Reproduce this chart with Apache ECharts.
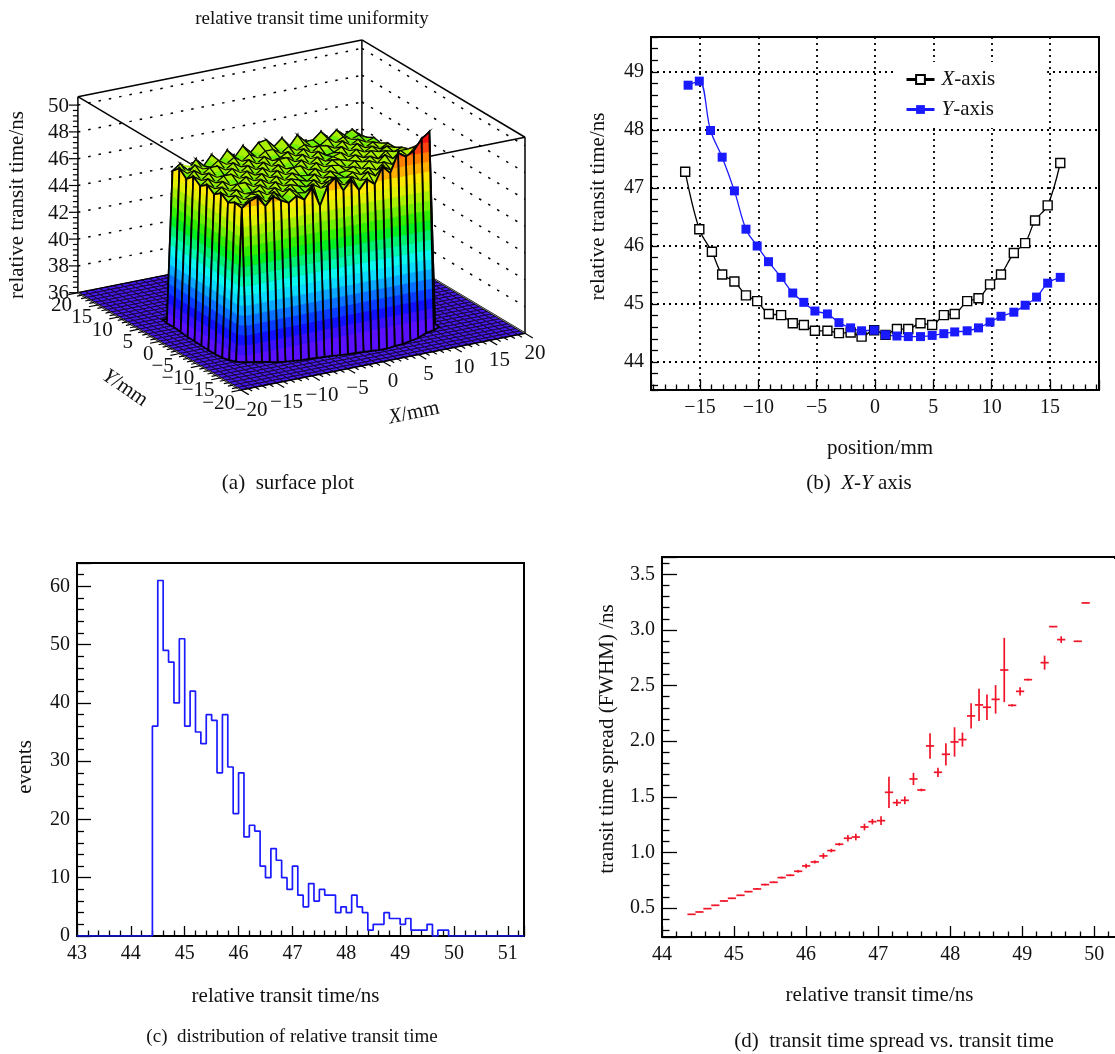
<!DOCTYPE html>
<html><head><meta charset="utf-8">
<style>html,body{margin:0;padding:0;background:#fff}#c{width:1115px;height:1054px}</style>
<script src="https://cdn.jsdelivr.net/npm/echarts@6/dist/echarts.min.js"></script>
</head><body><div id="c"></div>
<script>
// ---------- panel (b) ----------
const xAxisPos=[-16.27,-15.06,-13.98,-13.1,-12.05,-11.06,-10.1,-9.1,-8.05,-7.05,-6.1,-5.15,-4.08,-3.09,-2.09,-1.15,-0.07,0.9,1.88,2.85,3.9,4.9,5.9,6.83,7.9,8.87,9.86,10.8,11.9,12.87,13.72,14.8,15.88];
const xAxisTime=[47.28,46.29,45.90,45.51,45.39,45.15,45.05,44.83,44.81,44.67,44.64,44.54,44.54,44.50,44.51,44.44,44.55,44.47,44.57,44.57,44.67,44.64,44.81,44.83,45.05,45.10,45.34,45.51,45.88,46.05,46.44,46.70,47.43];
const yAxisPos=[-16.02,-15.06,-14.1,-13.1,-12.05,-11.06,-10.1,-9.13,-8.05,-7.05,-6.1,-5.15,-4.08,-3.09,-2.09,-1.15,-0.07,0.9,1.88,2.85,3.9,4.9,5.9,6.83,7.9,8.87,9.86,10.8,11.9,12.87,13.85,14.8,15.88];
const yAxisTime=[48.77,48.84,47.99,47.53,46.95,46.29,46.0,45.73,45.46,45.19,45.03,44.88,44.83,44.68,44.59,44.54,44.55,44.47,44.45,44.44,44.44,44.46,44.49,44.52,44.54,44.59,44.69,44.79,44.86,44.98,45.12,45.36,45.46];
// ---------- panel (c) ----------
const histEdges=[43,44.4,44.5,44.6,44.7,44.8,44.9,45.0,45.1,45.2,45.3,45.4,45.5,45.6,45.7,45.8,45.9,46.0,46.1,46.2,46.3,46.4,46.5,46.6,46.7,46.8,46.9,47.0,47.1,47.2,47.3,47.4,47.5,47.6,47.7,47.8,47.9,48.0,48.1,48.2,48.3,48.4,48.5,48.6,48.7,48.8,48.9,49.0,49.1,49.2,49.3,49.4,49.5,49.6,49.7,49.8,49.9,51.3];
const histCounts=[0,36,61,49,47,40,51,36,42,35,33,38,37,28,38,29,21,28,17,19,18,12,10,15,13,10,8,12,7,5,9,6,8,7,7,4,5,4,7,5,4,1,2,2,4,3,3,2,3,1,1,1,2,0,1,1,0,0];
// ---------- panel (d) ----------
const ttX=[44.41,44.52,44.63,44.74,44.86,44.97,45.09,45.20,45.32,45.43,45.55,45.66,45.78,45.89,46.00,46.12,46.24,46.35,46.46,46.58,46.69,46.81,46.92,47.04,47.15,47.26,47.37,47.49,47.60,47.72,47.83,47.94,48.06,48.17,48.29,48.40,48.51,48.63,48.75,48.86,48.97,49.08,49.31,49.43,49.54,49.77,49.88];
const ttY=[0.443,0.464,0.494,0.524,0.563,0.587,0.614,0.647,0.671,0.71,0.731,0.773,0.794,0.83,0.878,0.914,0.968,1.016,1.073,1.127,1.138,1.228,1.276,1.285,1.54,1.447,1.468,1.66,1.561,1.957,1.72,1.882,1.993,2.014,2.227,2.326,2.305,2.376,2.64,2.322,2.448,2.553,2.706,3.03,2.913,2.898,3.243];
const ttErr=[0.003,0.003,0.003,0.004,0.005,0.005,0.005,0.006,0.006,0.007,0.007,0.008,0.008,0.012,0.02,0.014,0.025,0.016,0.012,0.03,0.03,0.03,0.025,0.04,0.14,0.03,0.035,0.055,0.012,0.115,0.042,0.1,0.132,0.063,0.113,0.145,0.114,0.128,0.289,0.01,0.037,0.008,0.063,0.004,0.03,0.004,0.004];
// ---------- panel (a) ----------
const axisMm=[-20,-19,-18,-17,-16,-15,-14,-13,-12,-11,-10,-9,-8,-7,-6,-5,-4,-3,-2,-1,0,1,2,3,4,5,6,7,8,9,10,11,12,13,14,15,16,17,18,19,20];
const axisTicksMm=[-20,-15,-10,-5,0,5,10,15,20];
const axisTicksNs=[36,38,40,42,44,46,48,50];
const floorNs=36;
const surfX=[-15.8,-15,-13.9,-12.8,-11.7,-10.6,-9.5,-8.4,-7.3,-6.2,-5.1,-4,-2.9,-1.8,-0.7,0.4,1.5,2.6,3.7,4.8,5.9,7,8.1,9.2,10.3,11.4,12.2];
const surfY=[-12.6,-11.5,-9.8,-8.1,-6.4,-4.7,-3,-1.3,0.4,2.1,3.8,5.5,6.5];
const rimFront=[36.3,36.2,36.1,36,35.87,35.75,35.67,35.61,35.55,35.51,35.47,35.43,35.39,35.34,35.3,35.26,35.22,35.18,35.13,35.13,35.2,35.23,35.34,35.45,35.7,35.81,35.95];
const rimLeft=[36.13,35.93,35.8,35.76,35.75,35.78,35.8,35.8,35.87,35.93,35.9];
const surfRows=[
[47.5,47.9,48.1,47.3,47.9,47.5,47.2,47.6,47.2,48.0,46.5,47.9,48.4,47.3,48.0,47.1,47.8,47.3,48.5,47.9,49.3,48.9,49.2,50.0,50.4],
[47.6,47.3,47.7,47.8,47.2,47.8,47.3,47.8,47.4,47.3,47.8,47.4,47.8,47.6,47.3,47.8,47.4,47.9,47.5,48.1,47.7,48.4,48.0,48.8,49.4],
[47.3,47.7,47.3,47.6,47.7,47.3,47.7,47.3,47.7,47.5,47.3,47.7,47.3,47.7,47.5,47.4,47.7,47.4,47.8,47.5,48.0,47.7,48.3,48.1,48.7],
[47.7,47.3,47.7,47.3,47.3,47.7,47.3,47.7,47.3,47.7,47.5,47.3,47.7,47.3,47.7,47.4,47.5,47.7,47.4,47.9,47.6,48.1,47.7,48.2,48.2],
[47.3,47.7,47.3,47.7,47.7,47.3,47.7,47.3,47.7,47.3,47.7,47.4,47.3,47.7,47.3,47.7,47.6,47.3,47.7,47.5,47.8,47.5,48.0,47.8,48.0],
[47.7,47.3,47.7,47.3,47.3,47.7,47.3,47.7,47.3,47.7,47.3,47.7,47.7,47.3,47.7,47.3,47.7,47.6,47.4,47.7,47.4,47.8,47.6,47.9,47.7],
[47.3,47.7,47.3,47.7,47.7,47.3,47.7,47.3,47.7,47.3,47.7,47.3,47.3,47.7,47.3,47.7,47.3,47.5,47.7,47.3,47.7,47.4,47.7,47.4,47.7],
[47.7,47.3,47.7,47.3,47.3,47.7,47.3,47.7,47.3,47.7,47.3,47.7,47.7,47.3,47.7,47.3,47.7,47.3,47.4,47.7,47.3,47.7,47.3,47.6,47.4],
[47.2,47.7,47.3,47.7,47.7,47.3,47.7,47.3,47.7,47.3,47.7,47.3,47.4,47.7,47.3,47.7,47.3,47.7,47.6,47.3,47.7,47.3,47.6,47.3,47.5],
[47.7,47.2,47.7,47.3,47.3,47.7,47.3,47.7,47.3,47.7,47.3,47.7,47.7,47.3,47.7,47.3,47.6,47.3,47.3,47.7,47.3,47.6,47.3,47.5,47.2],
[47.2,47.6,47.0,47.7,47.1,47.8,47.2,47.9,47.3,48.0,47.4,48.0,48.1,47.5,48.0,47.3,48.0,47.4,47.4,47.9,47.3,47.8,47.3,47.6,47.1]
];
const palette=['#5a10ff','#3a10ff','#1010ff','#0a3cff','#0a70ff','#0aa8ff','#0adcff','#0af8f0','#00f8b0','#00f070','#00f020','#30f000','#70f000','#a8f000','#e0f000','#ffe800','#ffb000','#ff8000','#ff4010','#f01010'];

const SERIF='"Liberation Serif","Times New Roman",serif';
const bandH=0.72, topShift=2.15, zTop=50.63;
const surfZ=[rimFront]
  .concat(surfRows.map((r,k)=>[rimLeft[k]].concat(r,[floorNs])))
  .concat([surfX.map(()=>floorNs)]);

function proj(x,y,z){
  return [241+7.1*(x+20)-4.0775*(y+20), 390-1.4175*(x+20)-2.4325*(y+20)-13.4*(z-36)];
}
function clipZ(poly,z0,keepAbove){
  const out=[];
  for(let i=0;i<poly.length;i++){
    const a=poly[i],b=poly[(i+1)%poly.length];
    const ia=keepAbove?a[2]>=z0:a[2]<=z0, ib=keepAbove?b[2]>=z0:b[2]<=z0;
    if(ia)out.push(a);
    if(ia!==ib){const t=(z0-a[2])/(b[2]-a[2]);
      out.push([a[0]+t*(b[0]-a[0]),a[1]+t*(b[1]-a[1]),z0,a[3]+t*(b[3]-a[3])]);}
  }
  return out;
}
const line3=(p,q,style)=>{const a=proj(...p),b=proj(...q);
  return {type:'line',shape:{x1:a[0],y1:a[1],x2:b[0],y2:b[1]},style,silent:true};};

function renderFrame(){
  const ch=[],s={stroke:'#000',lineWidth:1.5,fill:null},d={stroke:'#000',lineWidth:1.5,lineDash:[2.5,8],fill:null};
  const L=-20,H=20,Z=zTop,F=floorNs;
  axisTicksNs.slice(1).forEach(z=>{
    ch.push(line3([L,H,z],[H,H,z],d));
    ch.push(line3([H,H,z],[H,L,z],d));
  });
  [[[L,H,Z],[H,H,Z]],[[H,H,Z],[H,L,Z]],[[L,H,Z],[L,L,Z]],[[L,L,Z],[H,L,Z]],
   [[L,H,F],[L,H,Z]],[[H,H,F],[H,H,Z]],[[H,L,F],[H,L,Z]]].forEach(p=>ch.push(line3(p[0],p[1],s)));
  return {type:'group',children:ch};
}
function renderFloor(params,api){
  const i=api.value(0),j=api.value(1);
  const x0=axisMm[i],x1=axisMm[i+1],y0=axisMm[j],y1=axisMm[j+1];
  const pts=[proj(x0,y0,floorNs),proj(x1,y0,floorNs),proj(x1,y1,floorNs),proj(x0,y1,floorNs)];
  return {type:'polygon',shape:{points:pts},silent:true,style:{fill:'#4a18ec',stroke:'#14083a',lineWidth:1}};
}
function renderFloorEdge(){
  const L=-20,H=20,F=floorNs;
  return {type:'group',children:[
    line3([H,L,F],[H,H,F],{stroke:'#000',lineWidth:2,fill:null}),
    line3([H,L,F],[H,H,F],{stroke:'#bbb',lineWidth:0.7,fill:null}),
    line3([L,H,F],[H,H,F],{stroke:'#000',lineWidth:1.2,fill:null})
  ]};
}
function renderSurf(params,api){
  const i=api.value(0),j=api.value(1),ch=[];
  const corners=[[i,j],[i+1,j],[i+1,j+1],[i,j+1]].map(c=>[surfX[c[0]],surfY[c[1]],surfZ[c[1]][c[0]]]);
  const isTop=Math.min(...corners.map(c=>c[2]))>=40;
  const shift=isTop?topShift:0;
  const poly=corners.map(c=>[c[0],c[1],c[2]-shift,c[2]]);
  const lo=Math.min(...poly.map(c=>c[2])),hi=Math.max(...poly.map(c=>c[2]));
  for(let b=0;b<palette.length;b++){
    const z0=b===0?-99:36+b*bandH,z1=b===palette.length-1?99:36+(b+1)*bandH;
    if(z1<lo||z0>hi)continue;
    let cl=clipZ(poly,z0,true);
    if(cl.length>2)cl=clipZ(cl,z1,false);
    if(cl.length<3)continue;
    ch.push({type:'polygon',silent:true,shape:{points:cl.map(c=>proj(c[0],c[1],c[3]))},
      style:{fill:palette[b],stroke:palette[b],lineWidth:0.5}});
  }
  ch.push({type:'polygon',silent:true,shape:{points:corners.map(c=>proj(c[0],c[1],c[2]))},
    style:{fill:null,stroke:'#000',lineWidth:isTop?1.1:1.8}});
  return {type:'group',children:ch};
}
const txt=(t,x,y,align)=>({type:'text',silent:true,style:{text:t,x,y,align:align,verticalAlign:'middle',
  fontFamily:SERIF,fontSize:21,fill:'#111'}});
function renderTicks(){
  const ch=[],s={stroke:'#000',lineWidth:1.2,fill:null};
  const L=-20,H=20,F=floorNs;
  ch.push(line3([L,H,F],[L,L,F],{stroke:'#000',lineWidth:2,fill:null}));
  ch.push(line3([L,H,F],[L,L,F],{stroke:'#bbb',lineWidth:0.7,fill:null}));
  ch.push(line3([L,L,F],[H,L,F],{stroke:'#000',lineWidth:1.4,fill:null}));
  axisMm.forEach(v=>{
    const maj=axisTicksMm.indexOf(v)>=0, n=maj?1.9:1;
    ch.push(line3([v,L,F],[v,L-n,F],s));
    ch.push(line3([L,v,F],[L-n*0.7,v,F],s));
  });
  axisTicksMm.forEach(v=>{
    const label=String(v).replace('-','\u2212');
    const px=proj(v,L,F), py=proj(L,v,F);
    ch.push(txt(label,px[0]+10,px[1]+20,'center'));
    ch.push(txt(label,py[0]-6,py[1]+13,'right'));
  });
  for(let z=36;z<=50.01;z+=0.4){
    const a=proj(L,H,z), maj=Math.abs((z-36)/2-Math.round((z-36)/2))<0.01;
    ch.push({type:'line',silent:true,shape:{x1:a[0],y1:a[1],x2:a[0]-(maj?9:5),y2:a[1]},style:s});
  }
  axisTicksNs.forEach(z=>{const a=proj(L,H,z);ch.push(txt(String(z),a[0]-9,a[1]+1,'right'));});
  return {type:'group',children:ch};
}

const floorCells=[];
for(let j=axisMm.length-2;j>=0;j--)for(let i=axisMm.length-2;i>=0;i--)floorCells.push([i,j]);
const surfCells=[];
for(let j=surfY.length-2;j>=0;j--)for(let i=surfX.length-2;i>=0;i--)surfCells.push([i,j]);

// ---------- 2D axes ----------
const minus=s=>String(s).replace('-','\u2212');
function mkAxis(o){
  const isX=o.kind==='x';
  const labelFn=v=>{
    if(Math.abs(v/o.step-Math.round(v/o.step))>1e-6)return '';
    if(v>=o.max-1e-9)return '';
    if(v<=o.min+1e-9&&o.hideMin)return '';
    return minus(o.fixed!=null?v.toFixed(o.fixed):v);
  };
  return Object.assign({
    type:'value',gridIndex:o.grid,min:o.min,max:o.max,minInterval:o.step,maxInterval:o.step,
    axisLine:{show:true,onZero:false,lineStyle:{color:'#000',width:2}},
    axisTick:{show:true,inside:true,length:o.tick||10,lineStyle:{color:'#000',width:1.3}},
    minorTick:{show:true,splitNumber:5,length:o.minor||5.5,lineStyle:{color:'#000',width:1.3}},
    axisLabel:{show:true,color:'#111',fontFamily:SERIF,fontSize:20,margin:o.margin||8,formatter:labelFn,
      showMinLabel:!o.hideMin,showMaxLabel:false},
    splitLine:o.dots?{show:true,lineStyle:{color:'#000',width:1.8,type:[2,4]}}:{show:false},
    minorSplitLine:{show:false},
    name:o.name,nameLocation:'middle',nameGap:o.gap,
    nameTextStyle:{color:'#111',fontFamily:SERIF,fontSize:21,padding:o.pad||0}
  },isX?{position:'bottom'}:{position:'left'});
}
const ital=21;
const mkRich=s=>({i:{fontFamily:SERIF,fontStyle:'italic',fontSize:s,fill:'#111'},r:{fontFamily:SERIF,fontSize:s,fill:'#111'}});
const gtext=(text,x,y,rot,size)=>({type:'text',x,y,rotation:rot||0,silent:true,
  style:{text,rich:mkRich(size||ital),align:'center',verticalAlign:'middle',fontFamily:SERIF,fontSize:size||ital,fill:'#111'}});

const option={
  animation:false,backgroundColor:'#fff',
  title:{text:'relative transit time uniformity',left:307,top:14,textAlign:'center',textVerticalAlign:'middle',
    textStyle:{fontFamily:SERIF,fontSize:19,fontWeight:'normal',color:'#111'}},
  grid:[
    {left:651,top:37,width:448,height:353,show:true,borderColor:'#000',borderWidth:2,backgroundColor:'#fff'},
    {left:77,top:563,width:447,height:373,show:true,borderColor:'#000',borderWidth:2,backgroundColor:'#fff'},
    {left:662,top:557,width:453,height:380,show:true,borderColor:'#000',borderWidth:2,backgroundColor:'#fff'}
  ],
  xAxis:[
    mkAxis({kind:'x',grid:0,min:-19.2,max:19.2,step:5,hideMin:true,dots:true,tick:10,name:'position/mm',gap:48,pad:[0,0,0,10]}),
    mkAxis({kind:'x',grid:1,min:43,max:51.3,step:1,tick:10,name:'relative transit time/ns',gap:50,pad:[0,30,0,0]}),
    mkAxis({kind:'x',grid:2,min:44,max:50.287,step:1,tick:11,name:'relative transit time/ns',gap:48,pad:[0,18,0,0]})
  ],
  yAxis:[
    mkAxis({kind:'y',grid:0,min:43.52,max:49.6,step:1,hideMin:true,dots:true,tick:7,minor:7,name:'relative transit time/ns',gap:42,pad:[0,0,0,14],margin:7}),
    mkAxis({kind:'y',grid:1,min:0,max:64,step:10,tick:14,minor:7,name:'events',gap:41,pad:[0,35,0,0],margin:7}),
    mkAxis({kind:'y',grid:2,min:0.239,max:3.656,step:0.5,hideMin:true,fixed:1,tick:15,minor:7.5,name:'transit time spread (FWHM) /ns',gap:44,pad:[0,0,0,16],margin:7})
  ],
  legend:{data:['X-axis','Y-axis'],left:894,top:62,orient:'vertical',backgroundColor:'#fff',
    padding:[7,52,8,11],itemWidth:28,itemHeight:11,itemGap:9,lineStyle:{width:3},
    formatter:n=>'{i|'+n[0]+'}{r|'+n.slice(1)+'}',
    textStyle:{fontFamily:SERIF,fontSize:21,color:'#111',
      rich:{i:{fontFamily:SERIF,fontStyle:'italic',fontSize:21,color:'#111',padding:[0,0,0,2]},r:{fontFamily:SERIF,fontSize:21,color:'#111'}}}},
  series:[
    {type:'custom',name:'frame',coordinateSystem:'none',silent:true,data:[[0]],renderItem:renderFrame,progressive:0},
    {type:'custom',name:'floor',coordinateSystem:'none',silent:true,data:floorCells,renderItem:renderFloor,progressive:0},
    {type:'custom',name:'floorEdge',coordinateSystem:'none',silent:true,data:[[0]],renderItem:renderFloorEdge,progressive:0},
    {type:'custom',name:'surface',coordinateSystem:'none',silent:true,data:surfCells,renderItem:renderSurf,progressive:0},
    {type:'custom',name:'ticks3d',coordinateSystem:'none',silent:true,data:[[0]],renderItem:renderTicks,progressive:0},
    {type:'line',name:'X-axis',xAxisIndex:0,yAxisIndex:0,smooth:0.35,symbol:'rect',symbolSize:9,
      data:xAxisPos.map((x,i)=>[x,xAxisTime[i]]),lineStyle:{color:'#000',width:1.3},
      itemStyle:{color:'#fff',borderColor:'#000',borderWidth:1.4}},
    {type:'line',name:'Y-axis',xAxisIndex:0,yAxisIndex:0,smooth:0.35,symbol:'rect',symbolSize:9,
      data:yAxisPos.map((x,i)=>[x,yAxisTime[i]]),lineStyle:{color:'#1a1aff',width:1.3},
      itemStyle:{color:'#1a1aff',borderColor:'#1a1aff',borderWidth:0}},
    {type:'line',name:'events',xAxisIndex:1,yAxisIndex:1,step:'end',symbol:'none',
      data:histEdges.map((x,i)=>[x,histCounts[i]]),lineStyle:{color:'#1a1aff',width:1.7}},
    {type:'custom',name:'spread',xAxisIndex:2,yAxisIndex:2,coordinateSystem:'cartesian2d',
      data:ttX.map((x,i)=>[x,ttY[i],ttErr[i]]),encode:{x:0,y:1},
      renderItem:(p,api)=>{
        const x=api.value(0),y=api.value(1),e=api.value(2);
        const a=api.coord([x,y-e]),b=api.coord([x,y+e]),l=api.coord([x-0.057,y]),r=api.coord([x+0.057,y]);
        const st={stroke:'#f01428',lineWidth:1.7,fill:null};
        return {type:'group',children:[
          {type:'line',shape:{x1:a[0],y1:a[1],x2:b[0],y2:b[1]},style:st},
          {type:'line',shape:{x1:l[0],y1:l[1],x2:r[0],y2:r[1]},style:st}]};
      }}
  ],
  graphic:[
    gtext('relative transit time/ns',17,205,Math.PI/2),
    gtext('{i|Y}{r|/mm}',125,388,-0.6),
    gtext('{i|X}{r|/mm}',414,413,0.2),
    gtext('(a)  surface plot',288,483,0,21),
    gtext('(b)  {i|X}{r|-}{i|Y}{r| axis}',859,483,0,21),
    gtext('(c)  distribution of relative transit time',292,1037,0,19),
    gtext('(d)  transit time spread vs. transit time',894,1041,0,21),
    {type:'rect',silent:true,z:100,shape:{x:1113.5,y:559,width:2,height:377},style:{fill:'#fff'}}
  ]
};
const chart=echarts.init(document.getElementById('c'),null,{renderer:'canvas',width:1115,height:1054});
chart.setOption(option);
</script></body></html>
